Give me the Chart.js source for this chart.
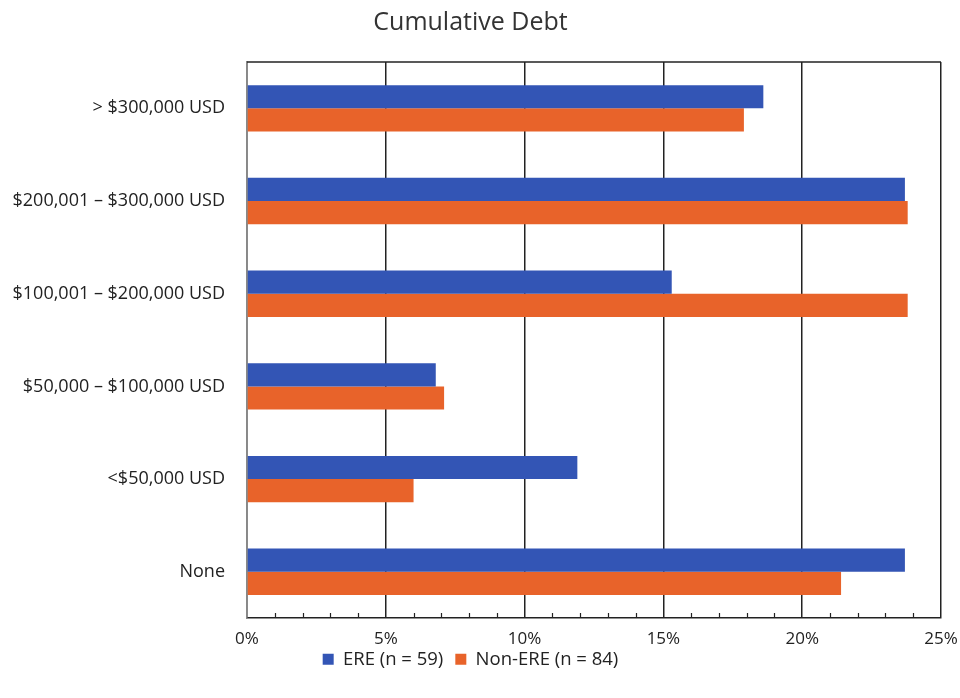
<!DOCTYPE html>
<html>
<head>
<meta charset="utf-8">
<script src="https://cdn.jsdelivr.net/npm/chart.js@4/dist/chart.umd.min.js"></script>
<style>
  html, body { margin: 0; padding: 0; background: #fff; }
  #wrap { width: 960px; height: 698px; }
</style>
</head>
<body>
<div id="wrap"><canvas id="debtChart" width="960" height="698"></canvas></div>
<script>
const categories = [
  '> $300,000 USD',
  '$200,001 – $300,000 USD',
  '$100,001 – $200,000 USD',
  '$50,000 – $100,000 USD',
  '<$50,000 USD',
  'None'
];
const ereValues = [18.6, 23.7, 15.3, 6.8, 11.9, 23.7];
const nonEreValues = [17.9, 23.8, 23.8, 7.1, 6.0, 21.4];
const seriesLabels = ['ERE (n = 59)', 'Non-ERE (n = 84)'];
const xTicks = [0, 5, 10, 15, 20, 25];

const font = "'Open Sans', 'Noto Sans', sans-serif";
const ink = '#222';

// top border + small inward minor ticks on the bottom axis
const frame = {
  id: 'frame',
  afterLayout(chart) {
    // pull the legend up close under the tick labels
    const lg = chart.legend;
    const d = lg.top - (chart.chartArea.bottom + 20);
    lg.top -= d;
    lg.bottom -= d;
  },
  afterDraw(chart) {
    const { ctx, chartArea: a, scales: { x } } = chart;
    ctx.save();
    ctx.strokeStyle = ink;
    ctx.lineWidth = 1.5;
    ctx.beginPath();
    ctx.moveTo(a.left, a.top);
    ctx.lineTo(a.right, a.top);
    ctx.stroke();
    ctx.lineWidth = 1.2;
    ctx.beginPath();
    for (let v = x.min; v <= x.max; v++) {
      if (xTicks.includes(v)) continue;
      const px = Math.round(x.getPixelForValue(v)) + 0.5;
      ctx.moveTo(px, a.bottom);
      ctx.lineTo(px, a.bottom - 5);
    }
    ctx.stroke();
    ctx.restore();
  }
};

new Chart(document.getElementById('debtChart'), {
  type: 'bar',
  data: {
    labels: categories,
    datasets: [
      { label: seriesLabels[0], data: ereValues, backgroundColor: '#3355b5' },
      { label: seriesLabels[1], data: nonEreValues, backgroundColor: '#e8632a' }
    ]
  },
  options: {
    indexAxis: 'y',
    responsive: false,
    animation: false,
    devicePixelRatio: 1,
    layout: { padding: { left: 0, right: 19, top: 0, bottom: -3 } },
    datasets: { bar: { barPercentage: 1, categoryPercentage: 0.5 } },
    scales: {
      x: {
        min: 0,
        max: 25,
        afterBuildTicks(scale) { scale.ticks = xTicks.map(v => ({ value: v })); },
        afterFit(scale) { scale.paddingRight = 0; scale.paddingLeft = 0; },
        ticks: {
          callback: v => v + '%',
          color: ink,
          padding: 11,
          maxRotation: 0,
          font: { family: font, size: 17 }
        },
        grid: { color: ink, lineWidth: 1.5, drawTicks: false },
        border: { display: true, color: ink, width: 1.5 }
      },
      y: {
        afterFit(scale) { scale.width = 247; },
        ticks: {
          color: ink,
          padding: 14,
          font: { family: font, size: 18 }
        },
        grid: { display: false },
        border: { display: true, color: '#888', width: 1.5 }
      }
    },
    plugins: {
      title: {
        display: true,
        text: 'Cumulative Debt',
        color: '#333',
        font: { family: font, size: 25, weight: 'normal' },
        padding: { top: 8, bottom: 24 }
      },
      legend: {
        position: 'bottom',
        labels: {
          color: ink,
          boxWidth: 11,
          boxHeight: 11,
          padding: 12,
          font: { family: font, size: 18.5 }
        }
      },
      tooltip: { enabled: false }
    }
  },
  plugins: [frame]
});
</script>
</body>
</html>
